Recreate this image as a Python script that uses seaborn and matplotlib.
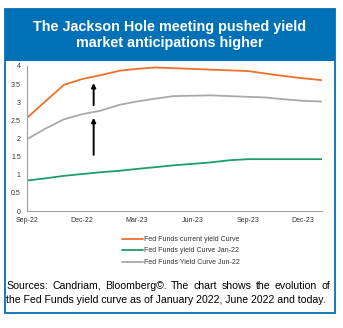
import matplotlib
matplotlib.use("Agg")
import matplotlib.pyplot as plt
from matplotlib.patches import Rectangle
from matplotlib.lines import Line2D
import seaborn as sns
import pandas as pd
import numpy as np

months = pd.date_range("2022-09-01", "2024-01-01", freq="MS")
current = [2.57, 3.02, 3.48, 3.64, 3.75, 3.87, 3.92, 3.96, 3.94, 3.92, 3.90, 3.88, 3.86, 3.79, 3.72, 3.66, 3.61]
jan22 = [0.84, 0.90, 0.97, 1.02, 1.07, 1.11, 1.16, 1.21, 1.26, 1.30, 1.34, 1.40, 1.43, 1.43, 1.43, 1.43, 1.43]
jun22 = [1.98, 2.27, 2.53, 2.67, 2.77, 2.93, 3.02, 3.10, 3.17, 3.18, 3.19, 3.17, 3.15, 3.13, 3.08, 3.04, 3.02]
series_names = ["Fed Funds current yield Curve", "Fed Funds yield Curve Jan-22", "Fed Funds Yield Curve Jun-22"]
colors = ["#F0702A", "#1E9C6B", "#A9A9A9"]
yticks = [0, 0.5, 1, 1.5, 2, 2.5, 3, 3.5, 4]
ytick_labels = ["0", "0.5", "1", "1.5", "2", "2.5", "3", "3.5", "4"]
xtick_dates = pd.to_datetime(["2022-09-01", "2022-12-01", "2023-03-01", "2023-06-01", "2023-09-01", "2023-12-01"])
xtick_labels = ["Sep-22", "Dec-22", "Mar-23", "Jun-23", "Sep-23", "Dec-23"]
arrow_date = pd.Timestamp("2022-12-20")
arrows = [(2.92, 3.53), (1.55, 2.57)]
title = "The Jackson Hole meeting pushed yield\nmarket anticipations higher"
source1 = "Sources: Candriam, Bloomberg\u00a9. The chart shows the evolution of"
source2 = "the Fed Funds yield curve as of January 2022, June 2022 and today."

df = pd.DataFrame({
    "date": np.tile(months, 3),
    "value": current + jan22 + jun22,
    "series": np.repeat(series_names, len(months)),
})

sns.set_style("white")
plt.rcParams["font.family"] = ["Liberation Sans", "DejaVu Sans"]

W, H = 343, 328
fig = plt.figure(figsize=(W / 100, H / 100), dpi=100)
fig.patch.set_facecolor("white")

# frame and title band
blue = "#0071B6"
fig.add_artist(Rectangle((5 / W, 1 - 313 / H), 330 / W, (313 - 9) / H, transform=fig.transFigure,
                         fill=False, edgecolor=blue, linewidth=1.3))
fig.add_artist(Rectangle((5 / W, 1 - 61 / H), 330 / W, (61 - 9) / H, transform=fig.transFigure,
                         facecolor=blue, edgecolor=blue, linewidth=0))
fig.text(170 / W, 1 - 35 / H, title, color="white", fontsize=10.4, fontweight="bold",
         ha="center", va="center", linespacing=1.1)

ax = fig.add_axes([27 / W, 1 - 211 / H, (322 - 27) / W, (211 - 66) / H])
sns.lineplot(data=df, x="date", y="value", hue="series", palette=colors, linewidth=1.3, ax=ax, legend=False)

ax.set_xlim(months[0], months[-1])
ax.set_ylim(0, 4)
ax.set_yticks(yticks)
ax.set_yticklabels(ytick_labels)
ax.set_xticks(xtick_dates)
ax.set_xticklabels(xtick_labels)
ax.set_xlabel("")
ax.set_ylabel("")
ax.tick_params(axis="both", labelsize=5.0, colors="#404040", length=2.5, width=0.6, pad=2)
ax.tick_params(axis="both", labelcolor="#333333")
for s in ["top", "right"]:
    ax.spines[s].set_visible(False)
for s in ["left", "bottom"]:
    ax.spines[s].set_color("#A0A0A0")
    ax.spines[s].set_linewidth(0.8)
ax.set_facecolor("white")

for y0, y1 in arrows:
    ax.annotate("", xy=(arrow_date, y1), xytext=(arrow_date, y0),
                arrowprops=dict(arrowstyle="-|>", color="black", lw=1.4, mutation_scale=6,
                                shrinkA=0, shrinkB=0))

# legend
handles = [Line2D([0], [0], color=c, lw=1.3) for c in colors]
leg = fig.legend(handles, series_names, loc="center", bbox_to_anchor=(181 / W, 1 - 251 / H),
                 frameon=False, fontsize=5.0, handlelength=3.0, handletextpad=0.2,
                 labelspacing=0.65, borderpad=0)
for t in leg.get_texts():
    t.set_color("#333333")

# source text, first line justified
fs = 7.55
renderer = fig.canvas.get_renderer()
left_px, right_px = 6.0, 330.0
words = source1.split(" ")
word_texts = [fig.text(0, 0, w, fontsize=fs, ha="left", va="center", color="black") for w in words]
widths = [t.get_window_extent(renderer).width for t in word_texts]
gap = (right_px - left_px - sum(widths)) / (len(words) - 1)
x = left_px
for t, w in zip(word_texts, widths):
    t.set_position((x / W, 1 - 286 / H))
    x += w + gap
fig.text(left_px / W, 1 - 300 / H, source2, fontsize=fs, ha="left", va="center", color="black")

fig.savefig("out.png", dpi=100, facecolor="white")
